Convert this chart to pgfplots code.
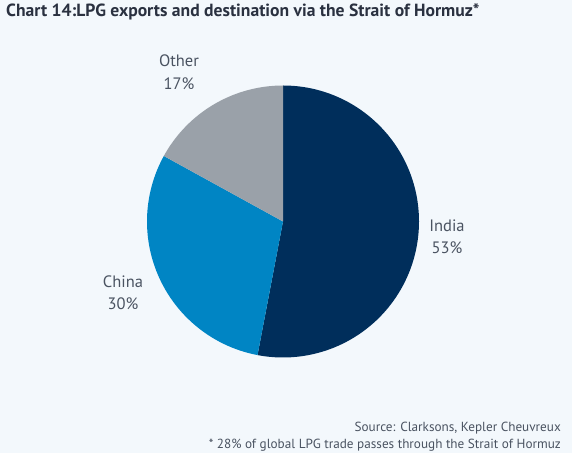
\documentclass[border=0pt]{standalone}
\usepackage{pgfplots}
\pgfplotsset{compat=1.18}
\usepackage{pgfplotstable}
\usepackage{fontspec}
\setmainfont{PT Sans}
\definecolor{bg}{HTML}{F3F8FC}
\definecolor{india}{HTML}{002E5B}
\definecolor{china}{HTML}{0085C4}
\definecolor{other}{HTML}{9AA1A9}
\definecolor{lbl}{HTML}{4A5361}
\definecolor{ttl}{HTML}{2A3140}

\pgfplotstableread{
name value
India 53
China 30
Other 17
}\piedata
\pgfplotstablegetelem{0}{value}\of\piedata \let\vIndia\pgfplotsretval
\pgfplotstablegetelem{1}{value}\of\piedata \let\vChina\pgfplotsretval
\pgfplotstablegetelem{2}{value}\of\piedata \let\vOther\pgfplotsretval
\pgfmathsetmacro{\aA}{90}
\pgfmathsetmacro{\aB}{90-3.6*\vIndia}
\pgfmathsetmacro{\aC}{\aB-3.6*\vChina}
\pgfmathsetmacro{\aD}{\aC-3.6*\vOther}

\begin{document}
\begin{tikzpicture}
\begin{axis}[scale only axis, width=583bp, height=453bp,
  xmin=0, xmax=583, ymin=0, ymax=453, hide axis, clip=false]
\fill[white] (axis cs:0,0) rectangle (axis cs:583,453);
\fill[bg] (axis cs:0,0) rectangle (axis cs:572,453);
\fill[india] (axis cs:283,231.5) -- ++(\aA:136bp) arc[start angle=\aA, end angle=\aB, radius=136bp] -- cycle;
\fill[china] (axis cs:283,231.5) -- ++(\aB:136bp) arc[start angle=\aB, end angle=\aC, radius=136bp] -- cycle;
\fill[other] (axis cs:283,231.5) -- ++(\aC:136bp) arc[start angle=\aC, end angle=\aD, radius=136bp] -- cycle;
\tikzset{lab/.style={text=lbl, inner sep=0pt, anchor=base, font=\fontsize{16.5bp}{19bp}\selectfont}}
\node[lab] at (axis cs:179,386) {Other};
\node[lab] at (axis cs:179,363) {\vOther\%};
\node[lab] at (axis cs:447,221) {India};
\node[lab] at (axis cs:447,199) {\vIndia\%};
\node[lab] at (axis cs:123,165) {China};
\node[lab] at (axis cs:123,143) {\vChina\%};
\node[text=ttl, inner sep=0pt, anchor=base west, font=\fontsize{17.6bp}{20bp}\selectfont\bfseries] at (axis cs:6,436.3) {Chart 14:LPG exports and destination via the Strait of Hormuz*};
\node[text=lbl, inner sep=0pt, anchor=base east, font=\fontsize{13.2bp}{16bp}\selectfont] at (axis cs:561,22) {Source: Clarksons, Kepler Cheuvreux};
\node[text=lbl, inner sep=0pt, anchor=base east, font=\fontsize{13.2bp}{16bp}\selectfont] at (axis cs:561,5) {* 28\% of global LPG trade passes through the Strait of Hormuz};
\end{axis}
\pgfresetboundingbox
\useasboundingbox (0,0) rectangle (583bp,453bp);
\end{tikzpicture}
\end{document}
